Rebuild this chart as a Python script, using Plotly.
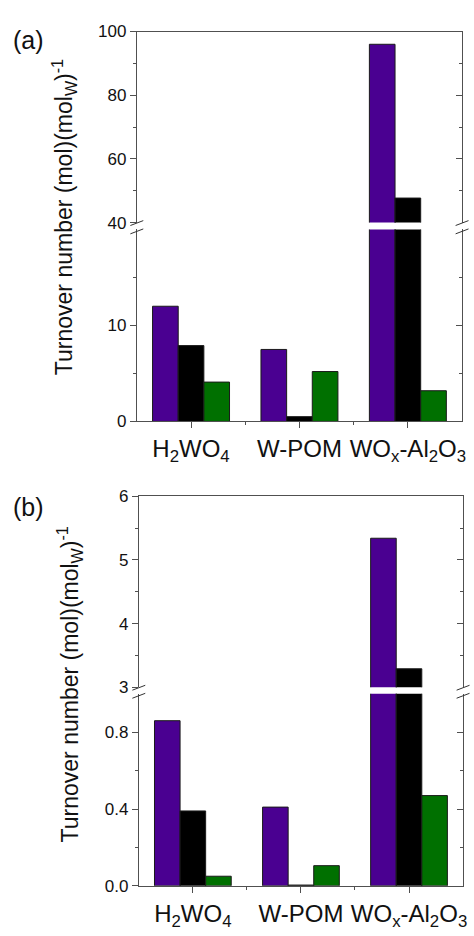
import plotly.graph_objects as go

# ---------------- data ----------------
categories = ["H<sub>2</sub>WO<sub>4</sub>", "W-POM", "WO<sub>x</sub>-Al<sub>2</sub>O<sub>3</sub>"]
series_names = ["series 1", "series 2", "series 3"]
series_colors = ["#4a0091", "#000000", "#007000"]

a_purple = [12.0, 7.5, 96.0]
a_black = [7.9, 0.5, 47.7]
a_green = [4.1, 5.2, 3.2]

b_purple = [0.86, 0.41, 5.34]
b_black = [0.39, 0.004, 3.29]
b_green = [0.05, 0.105, 0.47]

a_low_ticks = [0, 10]
a_low_minor = [5, 15]
a_up_ticks = [40, 60, 80, 100]
a_up_minor = [50, 70, 90]
b_low_ticks = [0.0, 0.4, 0.8]
b_low_ticktext = ["0.0", "0.4", "0.8"]
b_low_minor = [0.2, 0.6]
b_up_ticks = [3, 4, 5, 6]
b_up_minor = [3.5, 4.5, 5.5]

a_low_range = [0, 20]
a_up_range = [40, 100]
b_low_range = [0, 1.0]
b_up_range = [3, 6]

ytitle = "Turnover number (mol)(mol<sub>W</sub>)<sup>-1</sup>"

# ---------------- layout geometry ----------------
W, H = 474, 936
def fx(p):
    return p / W
def fy(p):
    return 1 - p / H

Xa = [fx(138), fx(466)]
Xb = [fx(140), fx(467)]
Ya_low = [fy(421), fy(225)]
Ya_up = [fy(218), fy(23)]
Yb_low = [fy(895), fy(699)]
Yb_up = [fy(692.3), fy(497.3)]

FONT = "Arial, Liberation Sans, sans-serif"
AXC = "#505050"
xpos = list(range(len(categories)))

fig = go.Figure()

def add_bars(values_list, xa, ya):
    for name, vals, col in zip(series_names, values_list, series_colors):
        fig.add_trace(go.Bar(
            x=xpos, y=vals, name=name, xaxis=xa, yaxis=ya,
            marker=dict(color=col, line=dict(color="#1a1a1a", width=1)),
            showlegend=False, hoverinfo="skip"))

add_bars([a_purple, a_black, a_green], "x", "y")
add_bars([a_purple, a_black, a_green], "x3", "y2")
add_bars([b_purple, b_black, b_green], "x2", "y3")
add_bars([b_purple, b_black, b_green], "x4", "y4")

# empty helper traces so the right-hand (mirror) axes get drawn
for xa, ya in [("x", "y5"), ("x3", "y6"), ("x2", "y7"), ("x4", "y8")]:
    fig.add_trace(go.Scatter(x=[None], y=[None], xaxis=xa, yaxis=ya,
                             mode="markers", showlegend=False, hoverinfo="skip"))

def yax(domain, rng, ticks, minor, anchor, ticktext=None):
    d = dict(domain=domain, range=rng, anchor=anchor, showline=True, linecolor=AXC,
             linewidth=1, ticks="outside", ticklen=6, tickwidth=1, tickcolor=AXC,
             tickmode="array", tickvals=ticks, showgrid=False, zeroline=False,
             tickfont=dict(family=FONT, size=17, color="#111"),
             minor=dict(tickmode="array", tickvals=minor, ticks="outside",
                        ticklen=3, tickwidth=1, tickcolor=AXC, showgrid=False),
             fixedrange=True)
    if ticktext is not None:
        d["ticktext"] = ticktext
    return d

def yax_right(base, rng, ticks, minor, anchor):
    return dict(overlaying=base, side="right", anchor=anchor, range=rng,
                showline=True, linecolor=AXC, linewidth=1, ticks="inside",
                ticklen=6, tickwidth=1, tickcolor=AXC, tickmode="array",
                tickvals=ticks, showticklabels=False, showgrid=False, zeroline=False,
                minor=dict(tickmode="array", tickvals=minor, ticks="inside",
                           ticklen=3, tickwidth=1, tickcolor=AXC, showgrid=False),
                fixedrange=True)

def xax_bottom(domain, anchor):
    return dict(domain=domain, anchor=anchor, range=[-0.5, len(categories) - 0.5],
                showline=True, linecolor=AXC, linewidth=1, ticks="outside", ticklen=6,
                tickwidth=1, tickcolor=AXC, tickmode="array", tickvals=xpos,
                ticktext=categories, showgrid=False, zeroline=False,
                tickfont=dict(family=FONT, size=24, color="#111"),
                minor=dict(tickmode="array", tickvals=[i + 0.5 for i in xpos[:-1]],
                           ticks="outside", ticklen=3, tickwidth=1, tickcolor=AXC),
                fixedrange=True)

def xax_top(domain, anchor, match):
    return dict(domain=domain, anchor=anchor, side="top", matches=match,
                range=[-0.5, len(categories) - 0.5], showline=True, linecolor=AXC,
                linewidth=1, ticks="", showticklabels=False, showgrid=False,
                zeroline=False, fixedrange=True)

fig.update_layout(
    width=W, height=H,
    margin=dict(l=0, r=0, t=0, b=0),
    paper_bgcolor="white", plot_bgcolor="white",
    barmode="group", bargap=0.29, bargroupgap=0,
    showlegend=False,
    font=dict(family=FONT, color="#111"),
    xaxis=xax_bottom(Xa, "y"),
    xaxis3=xax_top(Xa, "y2", "x"),
    xaxis2=xax_bottom(Xb, "y3"),
    xaxis4=xax_top(Xb, "y4", "x2"),
    yaxis=yax(Ya_low, a_low_range, a_low_ticks, a_low_minor, "x"),
    yaxis2=yax(Ya_up, a_up_range, a_up_ticks, a_up_minor, "x3"),
    yaxis3=yax(Yb_low, b_low_range, b_low_ticks, b_low_minor, "x2", b_low_ticktext),
    yaxis4=yax(Yb_up, b_up_range, b_up_ticks, b_up_minor, "x4"),
    yaxis5=yax_right("y", a_low_range, a_low_ticks, a_low_minor, "x"),
    yaxis6=yax_right("y2", a_up_range, a_up_ticks, a_up_minor, "x3"),
    yaxis7=yax_right("y3", b_low_range, b_low_ticks, b_low_minor, "x2"),
    yaxis8=yax_right("y4", b_up_range, b_up_ticks, b_up_minor, "x4"),
)

# break marks
shapes = []
dxp = 6.5 / W
dyp = 2.5 / H
for X, Ylow, Yup in [(Xa, Ya_low, Ya_up), (Xb, Yb_low, Yb_up)]:
    for xe in X:
        for yc in (Yup[0] - 0.5 / H, Ylow[1] - 2.0 / H):
            shapes.append(dict(type="line", xref="paper", yref="paper",
                               x0=xe - dxp, y0=yc - dyp, x1=xe + dxp, y1=yc + dyp,
                               line=dict(color="#333", width=1)))
fig.update_layout(shapes=shapes)

# annotations: y titles and panel labels
ann = []
for xc, yc in [(fx(64), fy(212)), (fx(70), fy(689))]:
    ann.append(dict(text=ytitle, x=xc, y=yc, xref="paper", yref="paper",
                    textangle=-90, showarrow=False, xanchor="center", yanchor="middle",
                    font=dict(family=FONT, size=23, color="#111")))
ann.append(dict(text="(a)", x=fx(29), y=fy(32), xref="paper", yref="paper",
                showarrow=False, xanchor="center", yanchor="middle",
                font=dict(family=FONT, size=25, color="#111")))
ann.append(dict(text="(b)", x=fx(29), y=fy(508), xref="paper", yref="paper",
                showarrow=False, xanchor="center", yanchor="middle",
                font=dict(family=FONT, size=25, color="#111")))
fig.update_layout(annotations=ann)

fig.write_html("out.html", config={"displayModeBar": False},
               post_script="document.body.style.margin='0';document.body.style.overflow='hidden';")
